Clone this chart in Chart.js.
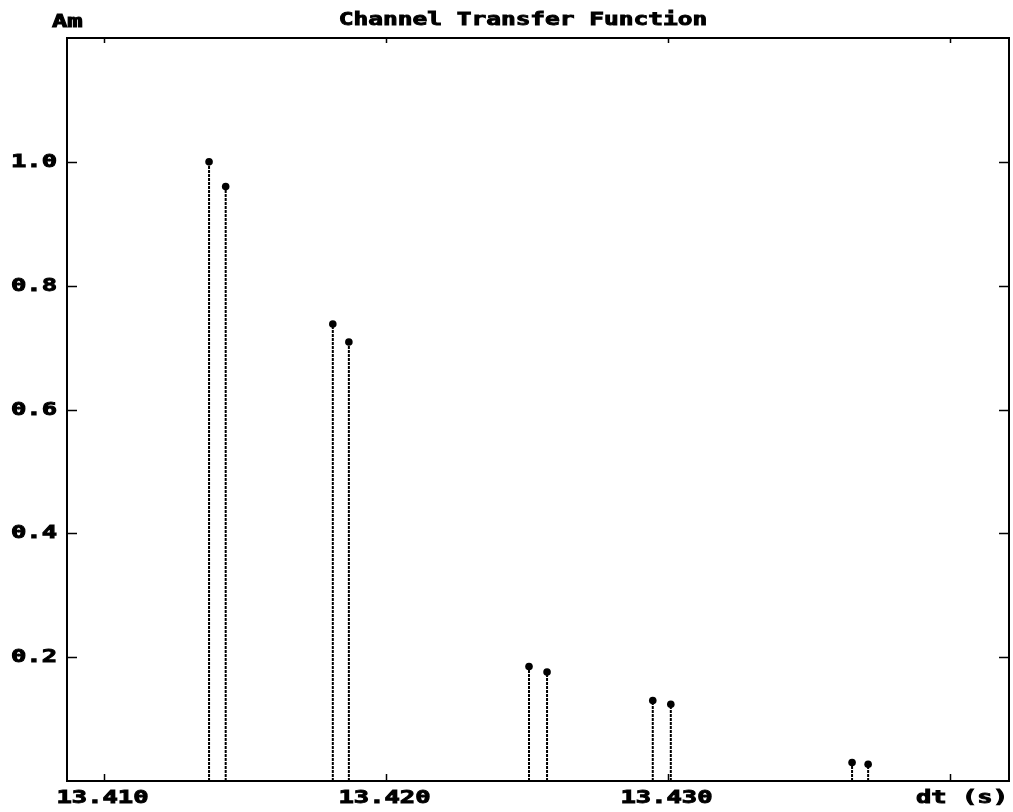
<!DOCTYPE html>
<html>
<head>
<meta charset="utf-8">
<title>Channel Transfer Function</title>
<script src="https://cdn.jsdelivr.net/npm/chart.js@4.4.1/dist/chart.umd.min.js"></script>
<style>
  html, body { margin: 0; padding: 0; background: #fff; }
  canvas { display: block; }
</style>
</head>
<body>
<canvas id="grafico" width="1013" height="812"></canvas>
<script>
// tempos das raias (s) e amplitudes
var tempos = [13.41373, 13.41432, 13.41812, 13.41869, 13.42508, 13.42572, 13.42947, 13.43011, 13.43654, 13.43711];
var amplitudes = [1.0, 0.960, 0.738, 0.709, 0.185, 0.176, 0.130, 0.124, 0.030, 0.027];

var xTicks = [13.41, 13.42, 13.43, 13.44];
var xLabels = ["13.410", "13.420", "13.430", "dt (s)"];
var yTicks = [0.2, 0.4, 0.6, 0.8, 1.0];
var yLabels = ["0.2", "0.4", "0.6", "0.8", "1.0"];

var titulo = "Channel Transfer Function";
var unidadeY = "Am";

var FONTE = "bold 17px 'DejaVu Sans Mono', monospace";

// hastes: (t,0) -> (t,a), separadas por um ponto nulo
var hastes = [];
for (var i = 0; i < tempos.length; i++) {
    hastes.push({x: tempos[i], y: 0});
    hastes.push({x: tempos[i], y: amplitudes[i]});
    hastes.push({x: tempos[i], y: null});
}
var pontas = tempos.map(function(t, i){ return {x: t, y: amplitudes[i]}; });

function texto(ctx, s, x, y, align, sx){
    ctx.save();
    ctx.font = FONTE;
    ctx.textBaseline = "middle";
    var w = ctx.measureText(s).width * sx;
    var x0 = x;
    if (align == "center") x0 = x - w / 2;
    if (align == "right") x0 = x - w;
    ctx.translate(x0, y);
    ctx.scale(sx, 1);
    ctx.textAlign = "left";
    ctx.lineWidth = 0.9;
    ctx.strokeText(s, 0, 0); // engrossa o traço, como na fonte original
    ctx.fillText(s, 0, 0);
    ctx.restore();
}

var moldura = {
    id: "moldura",
    afterDraw: function(chart){
        var ctx = chart.ctx;
        var a = chart.chartArea;
        var xs = chart.scales.x, ys = chart.scales.y;
        ctx.save();
        ctx.strokeStyle = "#000";
        ctx.fillStyle = "#000";
        ctx.lineWidth = 2;
        ctx.strokeRect(a.left, a.top, a.right - a.left, a.bottom - a.top);

        ctx.lineWidth = 1.5;
        xs.ticks.forEach(function(tk, i){
            var px = Math.round(xs.getPixelForValue(tk.value)) + 0.5;
            ctx.beginPath();
            ctx.moveTo(px, a.bottom); ctx.lineTo(px, a.bottom - 7);
            ctx.moveTo(px, a.top); ctx.lineTo(px, a.top + 5);
            ctx.stroke();
            var lab = xLabels[xTicks.indexOf(tk.value)];
            if (i == xs.ticks.length - 1)
                texto(ctx, lab, chart.width - 5, a.bottom + 18, "right", 1.5);
            else
                texto(ctx, lab, px - 2, a.bottom + 18, "center", 1.5);
        });
        ys.ticks.forEach(function(tk){
            var py = Math.round(ys.getPixelForValue(tk.value)) + 0.5;
            ctx.beginPath();
            ctx.moveTo(a.left, py); ctx.lineTo(a.left + 10, py);
            ctx.moveTo(a.right, py); ctx.lineTo(a.right - 10, py);
            ctx.stroke();
            texto(ctx, yLabels[yTicks.indexOf(tk.value)], a.left - 10, py, "right", 1.5);
        });

        texto(ctx, titulo, 523, 21, "center", 1.44);
        texto(ctx, unidadeY, 52, 23, "left", 1.5);
        ctx.restore();
    }
};

var grafico = new Chart(document.getElementById("grafico").getContext("2d"), {
    type: "scatter",
    data: {
        datasets: [{
            label: "hastes",
            data: hastes,
            showLine: true,
            spanGaps: false,
            borderColor: "#000",
            borderWidth: 2,
            borderDash: [3, 1],
            pointRadius: 0,
            pointHoverRadius: 0
        }, {
            label: "pontas",
            data: pontas,
            showLine: false,
            pointRadius: 3.8,
            pointBackgroundColor: "#000",
            pointBorderColor: "#000",
            pointBorderWidth: 0
        }]
    },
    options: {
        responsive: false,
        animation: false,
        layout: { padding: { left: 67, right: 4, top: 38, bottom: 31 } },
        plugins: {
            legend: { display: false },
            title: { display: false },
            tooltip: { enabled: false }
        },
        scales: {
            x: {
                type: "linear",
                min: 13.408691,
                max: 13.442107,
                grid: { display: false },
                border: { display: false },
                ticks: { display: false },
                afterBuildTicks: function(s){ s.ticks = xTicks.map(function(v){ return {value: v}; }); },
                afterFit: function(s){ s.height = 0; }
            },
            y: {
                type: "linear",
                min: 0,
                max: 1.2,
                grid: { display: false },
                border: { display: false },
                ticks: { display: false },
                afterBuildTicks: function(s){ s.ticks = yTicks.map(function(v){ return {value: v}; }); },
                afterFit: function(s){ s.width = 0; }
            }
        }
    },
    plugins: [moldura]
});
</script>
</body>
</html>
